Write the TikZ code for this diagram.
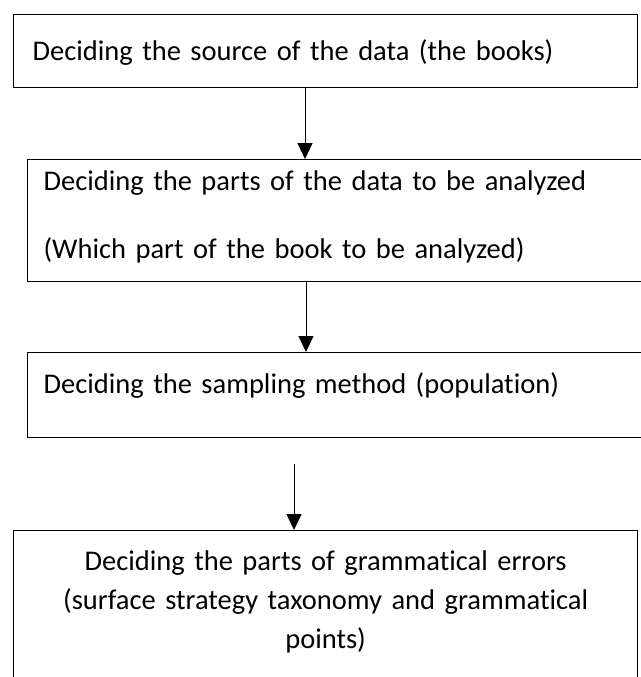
\documentclass[tikz,border=0pt]{standalone}
\usepackage{fontspec}
\setmainfont[RawFeature=-liga]{Carlito}
\usetikzlibrary{arrows.meta}
\tikzset{
  flowbox/.style={draw=black, line width=1.2pt, rectangle, anchor=north west,
    inner ysep=0pt, font=\fontsize{28.5}{39}\selectfont},
  flowarrow/.style={draw=black, line width=1pt, -{Triangle[width=15pt,length=16pt]}}
}
\begin{document}
\begin{tikzpicture}[x=1pt, y=-1pt]
\fill[white] (0,0) rectangle (640,677);
\useasboundingbox (0,0) rectangle (640,677);
\node[flowbox, inner xsep=19pt, text width=586pt, align=left,
      text height=46pt, text depth=27pt] (b1) at (13,14)
  {Deciding the source of the data (the books)};
\node[flowbox, inner xsep=16pt, text width=608pt, align=left,
      text height=31pt, text depth=91pt] (b2) at (27,159)
  {Deciding the parts of the data to be analyzed\\[29pt](Which part of the book to be analyzed)};
\node[flowbox, inner xsep=16pt, text width=608pt, align=left,
      text height=41pt, text depth=44pt] (b3) at (27,352)
  {Deciding the sampling method (population)};
\node[flowbox, inner xsep=10pt, text width=604pt, align=center,
      text height=40pt, text depth=130pt] (b4) at (13,530)
  {Deciding the parts of grammatical errors\\(surface strategy taxonomy and grammatical\\points)};
\coordinate (a1) at (305,0);
\coordinate (a2) at (306,0);
\coordinate (a3s) at (294,464);
\draw[flowarrow] (b1.south -| a1) -- (b2.north -| a1);
\draw[flowarrow] (b2.south -| a2) -- (b3.north -| a2);
\draw[flowarrow] (a3s) -- (b4.north -| a3s);
\end{tikzpicture}
\end{document}
